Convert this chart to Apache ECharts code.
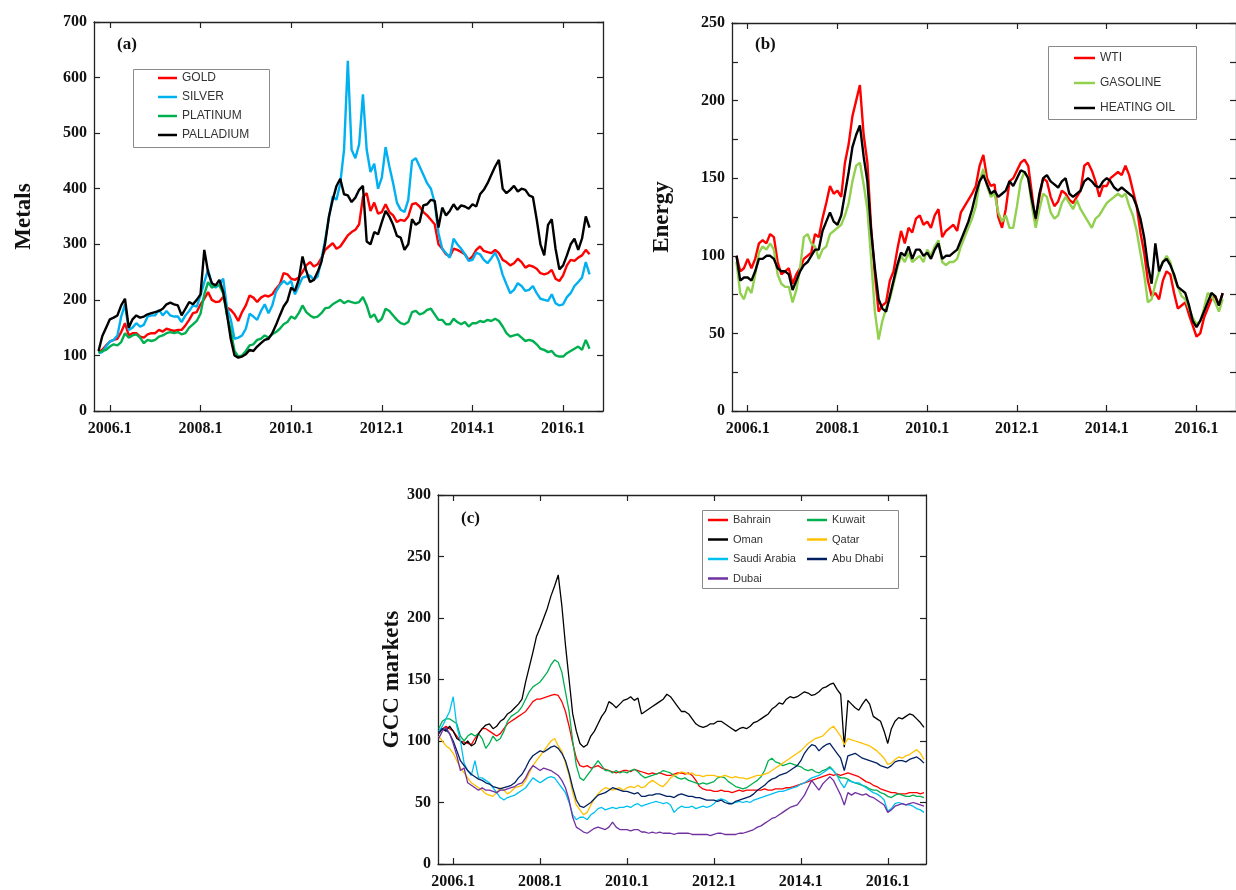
<!DOCTYPE html>
<html>
<head>
<meta charset="utf-8">
<title>Metals, Energy and GCC markets</title>
<script src="https://cdn.jsdelivr.net/npm/echarts/dist/echarts.min.js"></script>
<style>
  html, body { margin: 0; padding: 0; background: #fff; }
  #chart { width: 1236px; height: 890px; }
</style>
</head>
<body>
<div id="chart"></div>
<script>
// ---- Axis ticks ----
const tickYears = [2006, 2008, 2010, 2012, 2014, 2016];
const tickLabels = ['2006.1', '2008.1', '2010.1', '2012.1', '2014.1', '2016.1'];

// ---- (a) Metals, monthly, Oct 2005 - Aug 2016 ----
const gold = [
  106, 110, 118,
  125, 128, 130, 142, 158, 136, 140, 140, 134, 132, 138, 140,
  140, 146, 143, 148, 146, 144, 146, 146, 154, 164, 176, 178,
  192, 202, 214, 200, 196, 197, 205, 186, 182, 174, 162, 178,
  190, 208, 204, 196, 204, 208, 206, 210, 220, 228, 248, 246,
  238, 236, 240, 250, 262, 268, 260, 264, 275, 290, 296, 302,
  292, 296, 306, 316, 322, 326, 336, 385, 392, 360, 375, 355,
  358, 372, 358, 352, 340, 344, 342, 350, 372, 374, 368, 358,
  352, 344, 336, 300, 292, 282, 278, 292, 290, 286, 282, 272,
  278, 290, 296, 288, 286, 284, 290, 284, 272, 268, 262, 266,
  274, 268, 258, 262, 260, 256, 248, 246, 248, 254, 238, 234,
  244, 262, 272, 270, 276, 280, 290, 282
];
const silver = [
  104, 106, 116,
  125, 128, 136, 170, 192, 146, 150, 158, 152, 155, 170, 172,
  172, 182, 172, 180, 172, 170, 170, 160, 172, 180, 190, 188,
  208, 232, 254, 228, 222, 228, 238, 186, 165, 130, 132, 136,
  148, 175, 170, 164, 180, 192, 176, 190, 215, 226, 234, 228,
  234, 210, 225, 240, 242, 244, 236, 242, 272, 308, 348, 386,
  380, 410, 470, 630, 470, 455, 480, 570, 470, 430, 445, 400,
  420, 475, 440, 410, 375, 362, 358, 380, 450, 455, 440, 425,
  410, 400, 375, 320, 292, 284, 276, 310, 300, 292, 282, 270,
  272, 285, 282, 272, 266, 275, 285, 270, 245, 228, 212, 218,
  230, 225, 216, 218, 225, 212, 202, 200, 198, 210, 194, 190,
  192, 205, 212, 225, 232, 240, 268, 246
];
const platinum = [
  105, 108, 110,
  116, 120, 118, 124, 140, 132, 136, 138, 132, 122, 128, 126,
  128, 134, 136, 140, 142, 140, 142, 138, 140, 150, 156, 162,
  175, 210, 232, 222, 226, 226, 212, 172, 145, 108, 98, 100,
  108, 118, 120, 128, 130, 136, 132, 138, 142, 148, 156, 160,
  170, 166, 176, 190, 178, 172, 168, 170, 176, 185, 186, 192,
  196, 200, 194, 198, 196, 194, 196, 205, 190, 168, 174, 160,
  166, 184, 180, 172, 164, 158, 156, 160, 178, 180, 174, 176,
  182, 184, 174, 164, 164, 156, 156, 166, 160, 156, 160, 152,
  158, 158, 162, 160, 164, 162, 166, 162, 152, 140, 134, 136,
  138, 132, 126, 128, 126, 120, 112, 110, 106, 108, 100, 98,
  98, 104, 108, 112, 116, 110, 128, 112
];
const palladium = [
  108, 135, 150,
  165, 168, 172, 190, 202, 150, 165, 172, 168, 170, 174, 176,
  178, 180, 184, 192, 195, 192, 190, 172, 184, 196, 192, 200,
  210, 290, 250, 230, 226, 236, 215, 175, 130, 100, 96, 98,
  102, 110, 108, 116, 122, 128, 130, 140, 155, 172, 188, 198,
  222, 216, 236, 278, 252, 232, 236, 250, 268, 302, 350, 380,
  405, 418, 390, 388, 376, 384, 398, 405, 305, 300, 322, 318,
  340, 360, 350, 335, 315, 312, 290, 300, 345, 335, 340, 370,
  372, 380, 378, 330, 366, 352, 360, 372, 362, 370, 368, 364,
  372, 368, 390, 398, 410, 425, 440, 452, 400, 392, 398, 405,
  395, 400, 398, 388, 385, 345, 300, 280, 335, 345, 292, 255,
  262, 280, 300, 310, 290, 310, 350, 330
];

// ---- (b) Energy, monthly, Oct 2005 - Aug 2016 ----
const wti = [
  100, 90, 92,
  98, 92, 98, 108, 110, 108, 114, 112, 96, 88, 90, 92,
  82, 88, 92, 98, 100, 102, 114, 112, 124, 134, 145, 140,
  142, 138, 160, 172, 190, 200, 210, 178, 160, 118, 88, 64,
  68, 70, 84, 90, 104, 116, 108, 118, 115, 124, 126, 120,
  122, 118, 126, 130, 112, 116, 118, 120, 116, 128, 132, 136,
  140, 145, 158, 165, 150, 145, 146, 125, 118, 130, 148, 150,
  155, 160, 162, 158, 140, 120, 138, 150, 148, 138, 132, 135,
  142, 140, 136, 134, 138, 142, 158, 160, 155, 148, 138, 145,
  145, 150, 152, 154, 152, 158, 152, 142, 132, 115, 102, 84,
  74, 76, 72, 84, 90, 88, 76, 66, 68, 70, 62, 55,
  48, 50, 60, 66, 72, 74, 68, 76
];
const gasoline = [
  96, 76, 72,
  80, 76, 88, 102, 106, 104, 108, 104, 88, 82, 80, 80,
  70, 78, 92, 112, 114, 108, 106, 98, 104, 106, 114, 116,
  118, 120, 126, 134, 148, 158, 160, 146, 130, 98, 64, 46,
  58, 66, 72, 82, 92, 100, 96, 102, 96, 98, 100, 96,
  104, 100, 106, 110, 96, 94, 96, 96, 98, 106, 112, 118,
  124, 132, 148, 156, 145, 138, 140, 128, 122, 126, 118, 118,
  132, 148, 154, 150, 132, 118, 130, 140, 138, 128, 124, 126,
  134, 138, 134, 130, 136, 130, 126, 122, 118, 124, 126, 130,
  134, 136, 138, 140, 138, 140, 132, 126, 116, 102, 88, 70,
  72, 82, 90, 96, 100, 96, 86, 80, 74, 72, 66, 60,
  56, 58, 66, 76, 74, 70, 64, 72
];
const heatingOil = [
  100, 84, 86,
  86, 84, 90, 98, 98, 100, 100, 98, 92, 90, 90, 88,
  78, 84, 90, 94, 96, 100, 104, 104, 116, 122, 128, 122,
  120, 126, 140, 154, 170, 178, 184, 164, 148, 116, 92, 72,
  66, 64, 74, 84, 94, 102, 100, 106, 98, 104, 104, 100,
  102, 98, 104, 108, 98, 100, 100, 102, 104, 110, 116, 122,
  130, 140, 148, 152, 146, 140, 142, 138, 140, 142, 148, 145,
  150, 155, 154, 150, 136, 124, 140, 150, 152, 148, 146, 144,
  148, 150, 140, 138, 140, 142, 148, 150, 148, 145, 144, 148,
  150, 148, 144, 142, 144, 142, 140, 138, 132, 124, 112, 94,
  82, 108, 90, 96, 98, 94, 88, 80, 78, 76, 68, 58,
  54, 58, 64, 70, 76, 74, 68, 76
];

// ---- (c) GCC stock markets, monthly, Sep 2005 - Nov 2016 ----
const bahrain = [
  106, 110, 112, 110,
  108, 104, 100, 99, 98, 97, 102, 106, 110, 110, 108, 106,
  104, 106, 110, 114, 116, 118, 120, 122, 124, 128, 132, 134,
  134, 135, 136, 137, 138, 137, 132, 124, 112, 98, 86, 80,
  79, 80, 78, 79, 80, 78, 77, 76, 75, 74, 75, 76,
  76, 75, 77, 76, 75, 74, 73, 74, 73, 74, 73, 72,
  72, 73, 74, 74, 73, 74, 72, 68, 63, 61, 60, 60,
  59, 59, 60, 59, 59, 58, 59, 60, 59, 60, 60, 60,
  60, 60, 61, 60, 60, 61, 61, 61, 62, 62, 63, 64,
  65, 66, 67, 68, 69, 70, 71, 72, 73, 72, 73, 72,
  73, 74, 73, 72, 71, 69, 67, 66, 64, 63, 61, 60,
  59, 58, 58, 57, 57, 57, 58, 58, 58, 57, 58
];
const kuwait = [
  110, 116, 118, 118,
  116, 114, 104, 100, 104, 106, 104, 106, 102, 94, 98, 104,
  100, 102, 108, 116, 120, 122, 124, 128, 134, 140, 144, 146,
  148, 152, 156, 162, 166, 164, 156, 140, 124, 100, 80, 70,
  68, 72, 76, 80, 84, 80, 76, 76, 74, 76, 74, 75,
  74, 76, 77, 75, 72, 70, 71, 72, 73, 74, 76, 75,
  74, 72, 70, 69, 70, 68, 67, 66, 65, 66, 65, 66,
  67, 70, 71, 70, 67, 65, 63, 62, 61, 62, 64, 66,
  68, 71, 76, 84, 86, 83, 82, 80, 81, 82, 81, 80,
  79, 77, 76, 77, 75, 74, 76, 77, 79, 76, 72, 70,
  70, 69, 67, 66, 65, 64, 63, 61, 60, 60, 58, 57,
  55, 54, 56, 57, 56, 55, 55, 56, 55, 55, 54
];
const oman = [
  108, 110, 108, 112,
  108, 102, 100, 97, 100, 96, 98, 106, 110, 113, 114, 110,
  112, 116, 118, 122, 124, 127, 130, 134, 148, 160, 172, 185,
  192, 200, 208, 218, 226, 235, 210, 178, 150, 122, 108, 98,
  95, 97, 104, 108, 114, 120, 124, 132, 130, 127, 130, 133,
  134, 136, 133, 135, 122, 124, 126, 128, 130, 132, 134, 138,
  136, 132, 128, 124, 124, 122, 118, 114, 112, 111, 112, 114,
  114, 116, 116, 114, 112, 110, 108, 110, 111, 110, 112, 115,
  116, 118, 120, 122, 126, 128, 131, 130, 134, 136, 135, 136,
  138, 140, 139, 137, 138, 140, 143, 144, 146, 147, 142, 138,
  95, 133, 130, 127, 125, 130, 134, 130, 120, 118, 116, 108,
  98, 110, 116, 119, 118, 120, 122, 121, 118, 115, 111
];
const qatar = [
  104, 100, 96, 94,
  90, 84, 78, 74, 70, 66, 64, 62, 60, 57, 56, 55,
  58, 62, 60, 57, 59, 62, 63, 64, 68, 74, 80, 84,
  88, 92, 96, 100, 102, 96, 92, 82, 72, 58, 48, 44,
  40, 42, 48, 53, 57, 60, 62, 61, 60, 61, 62, 60,
  62, 63, 62, 64, 62, 63, 66, 68, 66, 64, 63, 66,
  70, 72, 73, 75, 74, 73, 74, 72, 72, 71, 72, 72,
  72, 71, 71, 72, 71, 70, 71, 70, 70, 69, 70, 71,
  72, 72, 73, 74, 76, 78, 80, 82, 84, 86, 88, 90,
  92, 95, 98, 100, 102, 103, 104, 107, 110, 112, 108, 104,
  97, 102, 101, 100, 99, 98, 97, 96, 94, 92, 89, 86,
  81, 82, 85, 87, 86, 88, 89, 91, 93, 90, 85
];
const saudi = [
  108, 112, 118, 124,
  136, 112, 100, 82, 76, 72, 84, 70, 70, 68, 66, 62,
  58, 54, 52, 54, 55, 56, 58, 60, 62, 66, 70, 68,
  66, 68, 70, 71, 70, 66, 62, 58, 50, 40, 36, 38,
  38, 36, 40, 42, 45, 46, 44, 45, 46, 45, 46, 46,
  47, 46, 48, 49, 47, 48, 49, 50, 51, 50, 49, 50,
  48, 42, 45, 47, 46, 46, 47, 45, 46, 47, 46, 47,
  49, 52, 53, 52, 50, 49, 50, 51, 50, 51, 50, 52,
  53, 54, 55, 56, 57, 58, 59, 59, 60, 61, 62, 63,
  65, 66, 68, 70, 71, 72, 74, 76, 78, 76, 72, 66,
  62, 68, 67, 66, 66, 64, 62, 60, 58, 57, 55, 52,
  43, 45, 49, 50, 49, 48, 48, 47, 45, 44, 42
];
const abuDhabi = [
  106, 110, 109, 106,
  100, 92, 84, 80, 76, 73, 71, 69, 68, 66, 65, 63,
  62, 61, 62, 63, 64, 66, 70, 73, 78, 84, 88, 90,
  92, 91, 93, 95, 96, 94, 90, 84, 74, 62, 52, 47,
  46, 48, 50, 53, 56, 57, 58, 60, 62, 61, 60, 59,
  59, 58, 57, 58, 55, 55, 56, 56, 57, 57, 56, 55,
  55, 54, 56, 57, 56, 55, 55, 54, 54, 53, 52, 52,
  52, 51, 52, 50, 49, 49, 51, 52, 53, 54, 55, 57,
  60, 62, 64, 67, 69, 70, 72, 73, 74, 76, 78, 80,
  84, 90, 94, 97, 96, 92, 95, 97, 98, 94, 90, 86,
  76, 88, 89, 90, 88, 86, 85, 84, 83, 82, 80, 79,
  78, 80, 83, 84, 84, 83, 85, 86, 87, 85, 82
];
const dubai = [
  102, 108, 111, 106,
  98, 88, 76, 78, 66, 64, 62, 60, 62, 60, 60, 59,
  58, 60, 60, 61, 62, 63, 65, 66, 70, 76, 80, 78,
  76, 78, 77, 76, 74, 72, 68, 62, 52, 38, 30, 28,
  26, 25, 27, 29, 30, 29, 28, 30, 34, 30, 28, 28,
  28, 27, 28, 28, 26, 26, 25, 26, 25, 26, 25, 25,
  25, 24, 25, 25, 25, 25, 24, 24, 24, 24, 24, 23,
  24, 25, 25, 24, 24, 24, 24, 25, 25, 26, 27, 28,
  30, 31, 33, 35, 37, 38, 40, 42, 44, 46, 47, 48,
  52, 56, 62, 68, 64, 60, 65, 68, 71, 68, 62, 56,
  48, 58, 56, 58, 57, 56, 57, 55, 54, 52, 50, 48,
  42, 44, 47, 48, 49, 48, 49, 50, 49, 48, 47
];

// Pair monthly values with their decimal-year position.
function monthly(year, month, values) {
  return values.map((v, i) => [year + (month - 1 + i) / 12, v]);
}

const SERIF = 'Liberation Serif, Times New Roman, serif';
const SANS = 'Liberation Sans, Arial, sans-serif';
const AXIS_COLOR = '#222';
const X_MIN = 2005.65, X_MAX = 2016.88;

const grids = [
  { left: 94, top: 22, width: 509, height: 389 },
  { left: 732, top: 23, width: 509, height: 388 },
  { left: 438, top: 495, width: 488, height: 373 }
];

function xAxes(gi) {
  const base = {
    type: 'value', gridIndex: gi, min: X_MIN, max: X_MAX,
    splitLine: { show: false },
    axisLine: { show: true, onZero: false, lineStyle: { color: AXIS_COLOR, width: 1.3 } },
    axisTick: { show: true, inside: true, length: 6, customValues: tickYears,
                lineStyle: { color: AXIS_COLOR, width: 1.2 } }
  };
  return [
    Object.assign({}, base, {
      position: 'bottom',
      axisLabel: {
        show: true, customValues: tickYears, margin: 10,
        formatter: v => tickLabels[tickYears.indexOf(Math.round(v))] || '',
        fontFamily: SERIF, fontWeight: 'bold', fontSize: 16, color: '#111'
      }
    }),
    Object.assign({}, base, { position: 'top', axisLabel: { show: false } })
  ];
}

function yAxes(gi, max, interval, name, nameGap, minor) {
  const base = {
    type: 'value', gridIndex: gi, min: 0, max: max, interval: interval,
    splitLine: { show: false },
    axisLine: { show: true, onZero: false, lineStyle: { color: AXIS_COLOR, width: 1.3 } },
    axisTick: { show: true, inside: true, length: 6, lineStyle: { color: AXIS_COLOR, width: 1.2 } },
    minorTick: minor ? { show: true, splitNumber: 2, length: 6, lineStyle: { color: AXIS_COLOR, width: 1.2 } } : { show: false }
  };
  return [
    Object.assign({}, base, {
      position: 'left',
      name: name, nameLocation: 'middle', nameGap: nameGap, nameRotate: 90,
      nameTextStyle: { fontFamily: SERIF, fontWeight: 'bold', fontSize: 23, color: '#111' },
      axisLabel: { show: true, margin: 7, fontFamily: SERIF, fontWeight: 'bold', fontSize: 16, color: '#111' }
    }),
    Object.assign({}, base, { position: 'right', axisLabel: { show: false } })
  ];
}

function line(name, values, color, gi, width, y0, m0) {
  return {
    name: name, type: 'line', xAxisIndex: gi * 2, yAxisIndex: gi * 2,
    data: monthly(y0, m0, values), showSymbol: false, symbol: 'none',
    lineStyle: { color: color, width: width }, itemStyle: { color: color },
    emphasis: { disabled: true }
  };
}

const legendText = { fontFamily: SANS, fontSize: 12, color: '#333', lineHeight: 14 };
function legend(names, left, top, itemWidth, gap, fontSize) {
  return {
    data: names, orient: 'vertical', left: left, top: top, padding: 0,
    icon: 'rect', itemWidth: itemWidth, itemHeight: 2.5, itemGap: gap,
    textStyle: Object.assign({}, legendText, { fontSize: fontSize })
  };
}

function panelTag(text, left, top) {
  return { text: text, left: left, top: top, padding: 0,
           textStyle: { fontFamily: SERIF, fontWeight: 'bold', fontSize: 17, color: '#111' } };
}

function box(x, y, w, h) {
  return { type: 'rect', left: x, top: y, z: 0, silent: true,
           shape: { width: w, height: h },
           style: { fill: 'transparent', stroke: '#8a8a8a', lineWidth: 1 } };
}

const chart = echarts.init(document.getElementById('chart'), null, { renderer: 'canvas' });
chart.setOption({
  animation: false,
  backgroundColor: '#ffffff',
  title: [panelTag('(a)', 117, 36), panelTag('(b)', 755, 36), panelTag('(c)', 461, 510)],
  grid: grids,
  xAxis: [].concat(xAxes(0), xAxes(1), xAxes(2)),
  yAxis: [].concat(
    yAxes(0, 700, 100, 'Metals', 58, false),
    yAxes(1, 250, 50, 'Energy', 58, true),
    yAxes(2, 300, 50, 'GCC markets', 29, false)
  ),
  legend: [
    legend(['GOLD', 'SILVER', 'PLATINUM', 'PALLADIUM'], 158, 71, 19, 5, 12),
    legend(['WTI', 'GASOLINE', 'HEATING OIL'], 1074, 51, 21, 11, 12),
    legend(['Bahrain', 'Oman', 'Saudi Arabia', 'Dubai'], 708, 513, 20, 5.5, 11),
    legend(['Kuwait', 'Qatar', 'Abu Dhabi'], 807, 513, 20, 5.5, 11)
  ],
  graphic: [box(133, 69, 136, 78), box(1048, 46, 148, 73), box(702, 510, 196, 78)],
  series: [
    line('GOLD', gold, '#ff0000', 0, 2.4, 2005, 10),
    line('SILVER', silver, '#00b0f0', 0, 2.4, 2005, 10),
    line('PLATINUM', platinum, '#00b050', 0, 2.4, 2005, 10),
    line('PALLADIUM', palladium, '#000000', 0, 2.4, 2005, 10),

    line('WTI', wti, '#ff0000', 1, 2.4, 2005, 10),
    line('GASOLINE', gasoline, '#92d050', 1, 2.4, 2005, 10),
    line('HEATING OIL', heatingOil, '#000000', 1, 2.4, 2005, 10),

    line('Bahrain', bahrain, '#ff0000', 2, 1.3, 2005, 9),
    line('Kuwait', kuwait, '#00b050', 2, 1.3, 2005, 9),
    line('Oman', oman, '#000000', 2, 1.3, 2005, 9),
    line('Qatar', qatar, '#ffc000', 2, 1.3, 2005, 9),
    line('Saudi Arabia', saudi, '#00c0f0', 2, 1.3, 2005, 9),
    line('Abu Dhabi', abuDhabi, '#002060', 2, 1.3, 2005, 9),
    line('Dubai', dubai, '#7030a0', 2, 1.3, 2005, 9)
  ]
});
</script>
</body>
</html>
